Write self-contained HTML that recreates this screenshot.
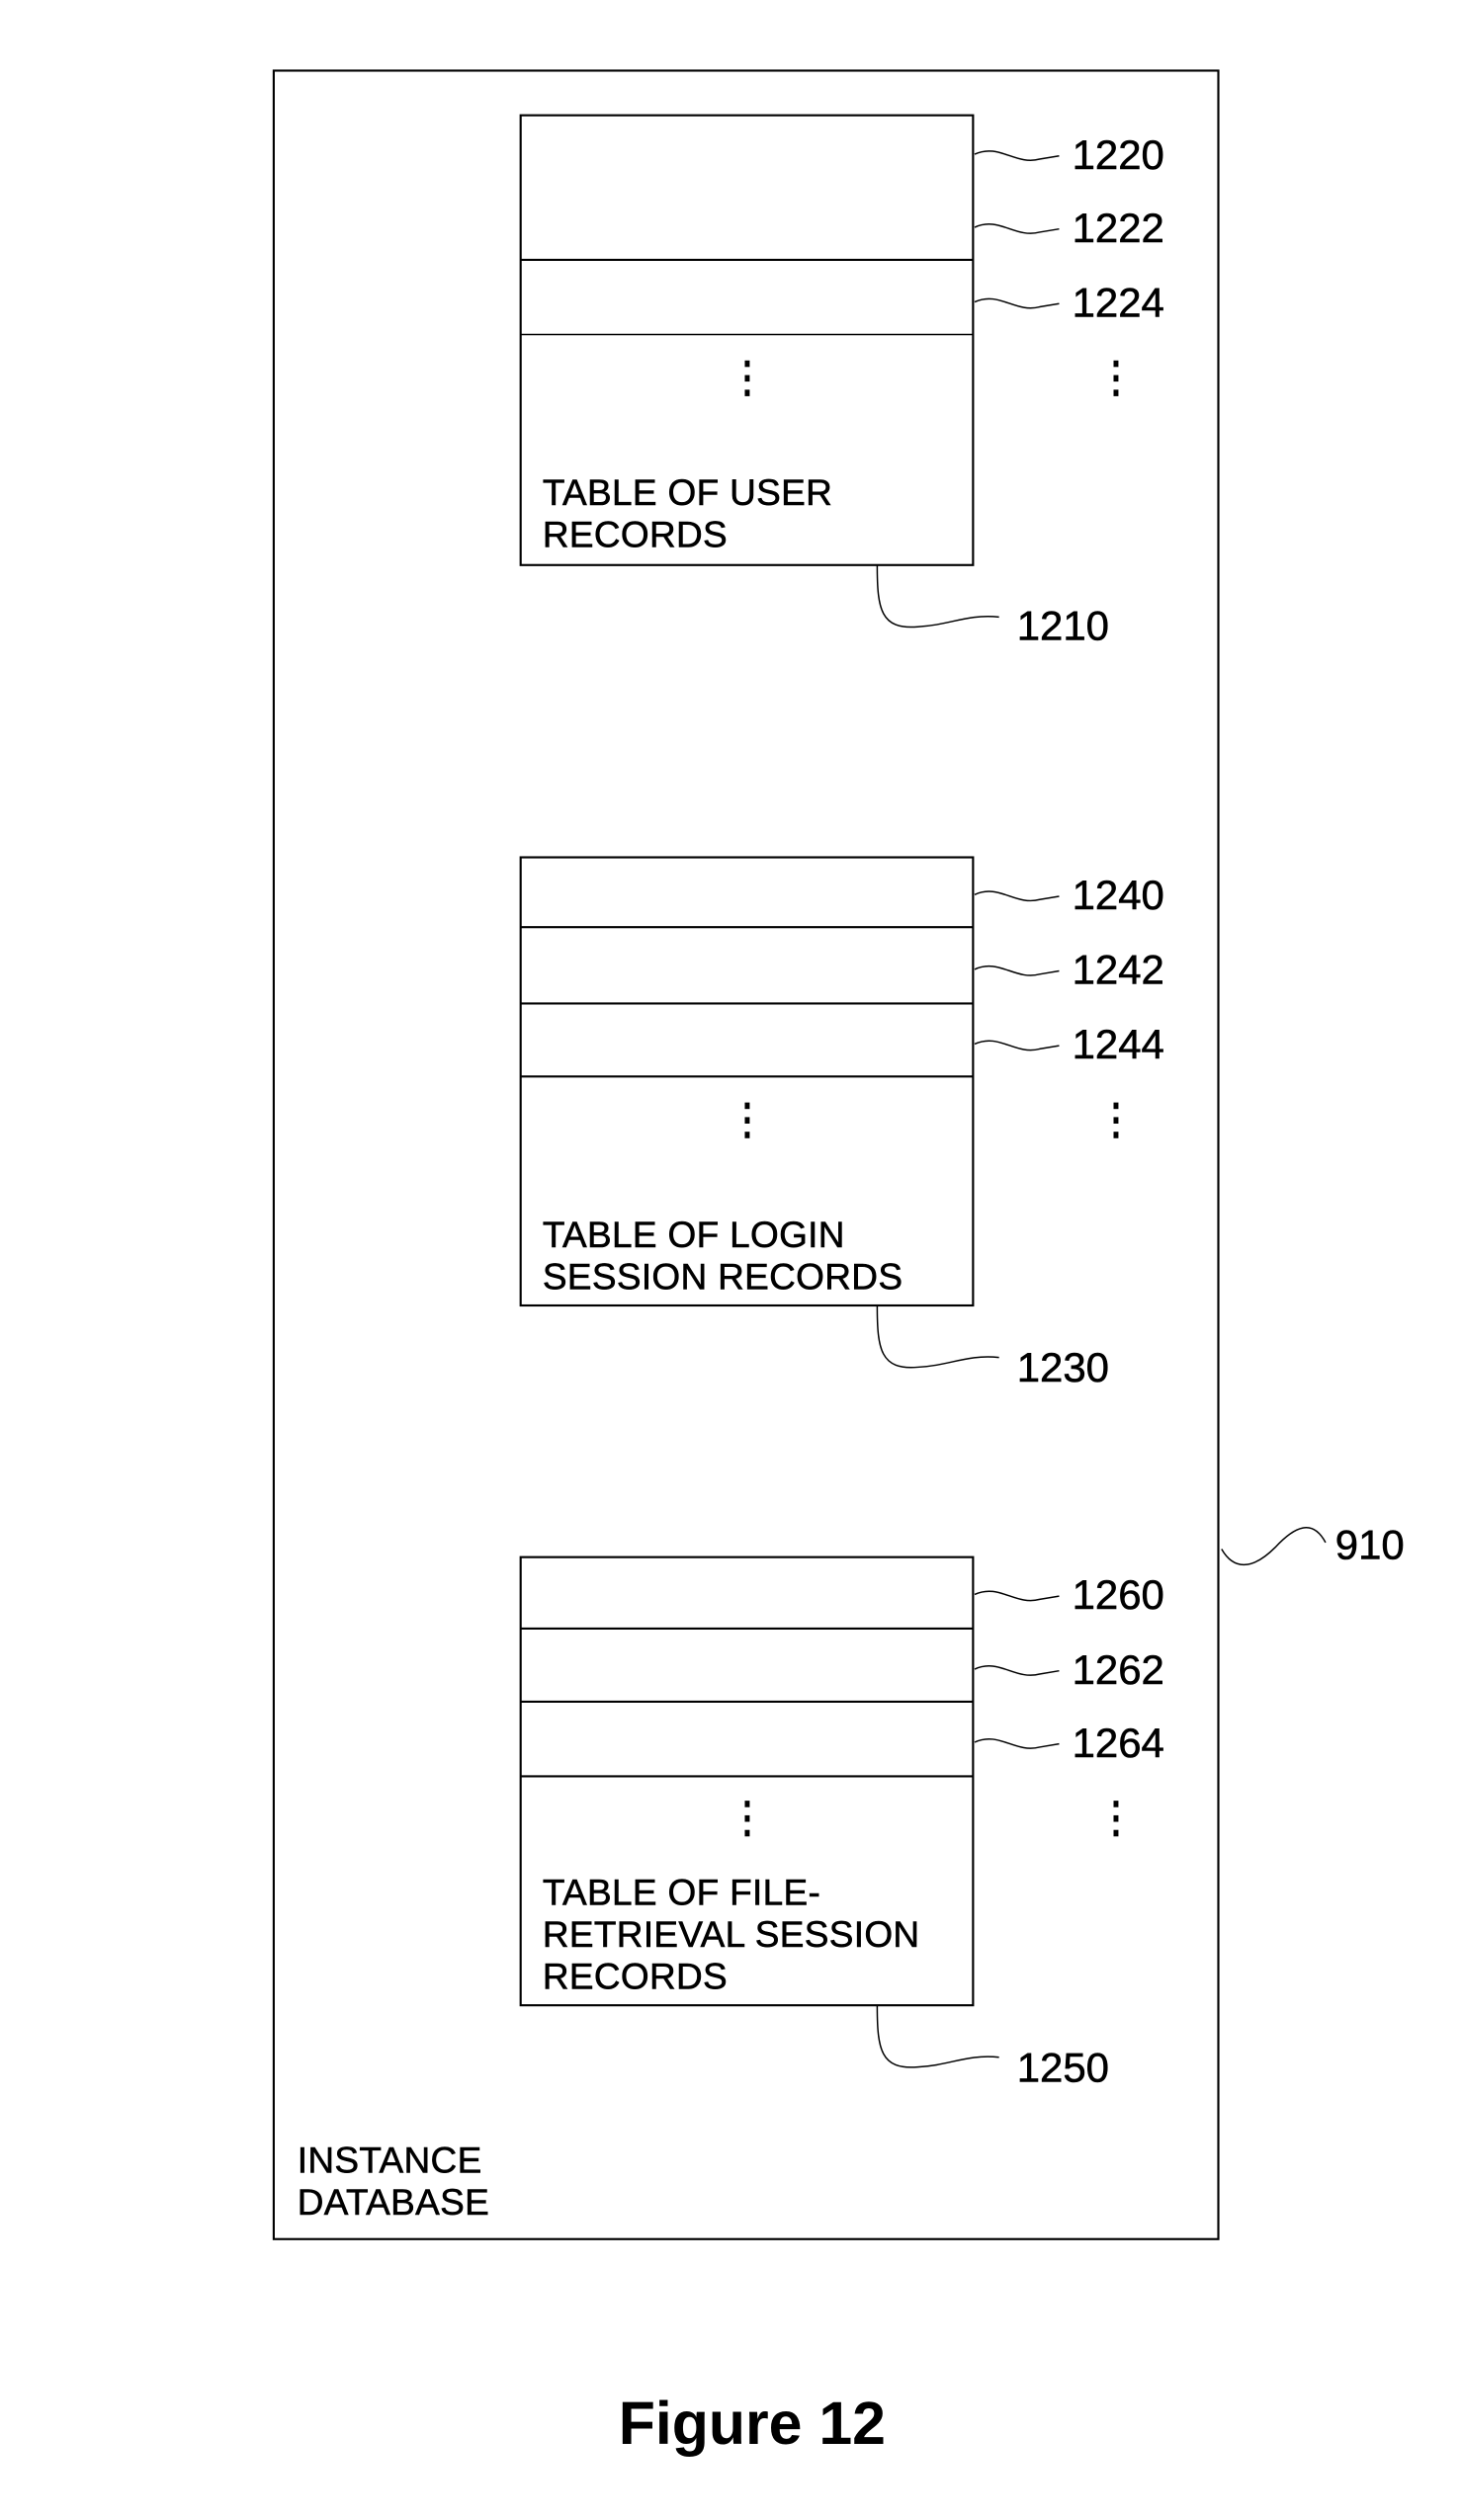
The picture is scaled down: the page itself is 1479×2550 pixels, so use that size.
<!DOCTYPE html>
<html><head><meta charset="utf-8"><style>
html,body{margin:0;padding:0;background:#fff;}
svg{display:block;}
text{font-family:"Liberation Sans",Arial,sans-serif;fill:#000;stroke:#000;stroke-width:0.35;}
.t{font-size:22.5px;letter-spacing:0.2px;}
.n{font-size:25.5px;}
</style></head><body>
<svg width="1479" height="2550" viewBox="0 0 900 1552" preserveAspectRatio="none" xmlns="http://www.w3.org/2000/svg">
<g fill="none" stroke="#000" stroke-width="1.3">
<rect x="168.5" y="43.5" width="581.5" height="1335.5"/>
<rect x="320.5" y="71" width="278.5" height="277"/>
<line x1="320.5" y1="160" x2="599" y2="160"/>
<line x1="320.5" y1="206" x2="599" y2="206" stroke-width="0.9"/>
<rect x="320.5" y="528" width="278.5" height="276"/>
<line x1="320.5" y1="571" x2="599" y2="571"/>
<line x1="320.5" y1="618" x2="599" y2="618"/>
<line x1="320.5" y1="663" x2="599" y2="663"/>
<rect x="320.5" y="959" width="278.5" height="276"/>
<line x1="320.5" y1="1003" x2="599" y2="1003"/>
<line x1="320.5" y1="1048" x2="599" y2="1048"/>
<line x1="320.5" y1="1094" x2="599" y2="1094"/>
</g>
<g fill="none" stroke="#000" stroke-width="0.9">
<path d="M600 95 C615 88 625 102 640 98 L652 96"/>
<path d="M600 140 C615 133 625 147 640 143 L652 141"/>
<path d="M600 186 C615 179 625 193 640 189 L652 187"/>
<path d="M600 551 C615 544 625 558 640 554 L652 552"/>
<path d="M600 597 C615 590 625 604 640 600 L652 598"/>
<path d="M600 643 C615 636 625 650 640 646 L652 644"/>
<path d="M600 982 C615 975 625 989 640 985 L652 983"/>
<path d="M600 1028 C615 1021 625 1035 640 1031 L652 1029"/>
<path d="M600 1073 C615 1066 625 1080 640 1076 L652 1074"/>
<path d="M540 348 C540 375 542 388 565 386 C585 385 595 378 615 380"/>
<path d="M540 804 C540 831 542 844 565 842 C585 841 595 834 615 836"/>
<path d="M540 1235 C540 1262 542 1275 565 1273 C585 1272 595 1265 615 1267"/>
<path d="M752 954 C760 968 772 966 785 953 C797 940 808 935 816 950"/>
</g>
<g fill="#000">
<rect x="458.5" y="222" width="3" height="4"/><rect x="458.5" y="231" width="3" height="4"/><rect x="458.5" y="240" width="3" height="4"/>
<rect x="685.5" y="222" width="3" height="4"/><rect x="685.5" y="231" width="3" height="4"/><rect x="685.5" y="240" width="3" height="4"/>
<rect x="458.5" y="679" width="3" height="4"/><rect x="458.5" y="688" width="3" height="4"/><rect x="458.5" y="697" width="3" height="4"/>
<rect x="685.5" y="679" width="3" height="4"/><rect x="685.5" y="688" width="3" height="4"/><rect x="685.5" y="697" width="3" height="4"/>
<rect x="458.5" y="1109" width="3" height="4"/><rect x="458.5" y="1118" width="3" height="4"/><rect x="458.5" y="1127" width="3" height="4"/>
<rect x="685.5" y="1109" width="3" height="4"/><rect x="685.5" y="1118" width="3" height="4"/><rect x="685.5" y="1127" width="3" height="4"/>
</g>
<text class="n" x="660" y="104">1220</text>
<text class="n" x="660" y="149">1222</text>
<text class="n" x="660" y="195">1224</text>
<text class="n" x="626" y="394">1210</text>
<text class="n" x="660" y="560">1240</text>
<text class="n" x="660" y="606">1242</text>
<text class="n" x="660" y="652">1244</text>
<text class="n" x="626" y="851">1230</text>
<text class="n" x="660" y="991">1260</text>
<text class="n" x="660" y="1037">1262</text>
<text class="n" x="660" y="1082">1264</text>
<text class="n" x="626" y="1282">1250</text>
<text class="n" x="822" y="960">910</text>
<text class="t" x="334" y="311">TABLE OF USER</text>
<text class="t" x="334" y="337">RECORDS</text>
<text class="t" x="334" y="768">TABLE OF LOGIN</text>
<text class="t" x="334" y="794">SESSION RECORDS</text>
<text class="t" x="334" y="1173">TABLE OF FILE-</text>
<text class="t" x="334" y="1199">RETRIEVAL SESSION</text>
<text class="t" x="334" y="1225">RECORDS</text>
<text class="t" x="183" y="1338">INSTANCE</text>
<text class="t" x="183" y="1364">DATABASE</text>
<text x="463" y="1505" text-anchor="middle" style="font-size:37px;font-weight:bold;stroke-width:0;">Figure 12</text>
</svg>
</body></html>
